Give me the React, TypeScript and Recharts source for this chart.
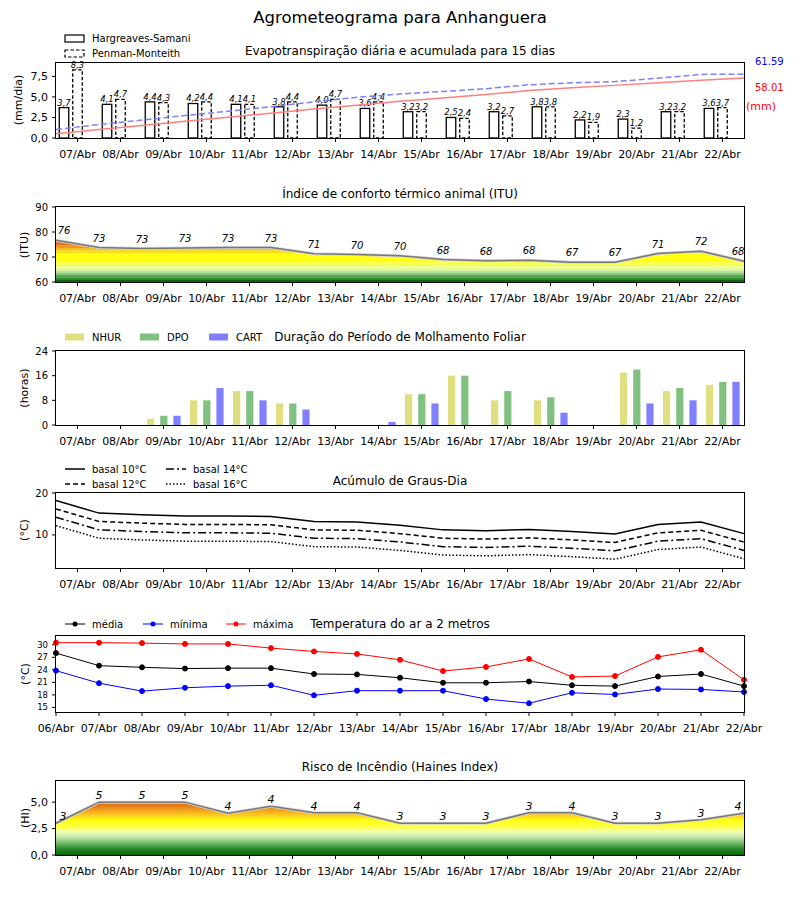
import React from 'react';
import { BarChart, LineChart, ComposedChart, Bar, Line, Area, XAxis, YAxis, LabelList } from 'recharts';

// dias das previsões
const dias = ['07/Abr', '08/Abr', '09/Abr', '10/Abr', '11/Abr', '12/Abr', '13/Abr', '14/Abr', '15/Abr', '16/Abr', '17/Abr', '18/Abr', '19/Abr', '20/Abr', '21/Abr', '22/Abr'];
const diasTemperatura = ['06/Abr', '07/Abr', '08/Abr', '09/Abr', '10/Abr', '11/Abr', '12/Abr', '13/Abr', '14/Abr', '15/Abr', '16/Abr', '17/Abr', '18/Abr', '19/Abr', '20/Abr', '21/Abr', '22/Abr'];

// Evapotranspiração diária (mm/dia)
const etHargreaves = [3.7, 4.1, 4.4, 4.2, 4.1, 3.8, 4.0, 3.6, 3.2, 2.5, 3.2, 3.8, 2.2, 2.3, 3.2, 3.6];
const etPenman = [8.3, 4.7, 4.3, 4.4, 4.1, 4.4, 4.7, 4.4, 3.2, 2.4, 2.7, 3.8, 1.9, 1.2, 3.2, 3.7];
const acumHargreaves = [4.2, 8.1, 12.1, 16.1, 20.1, 24.0, 27.9, 31.7, 35.5, 38.6, 42.0, 45.8, 48.6, 50.8, 53.3, 55.8, 58.0];
const acumPenman = [8.3, 13.0, 17.3, 21.7, 25.8, 30.2, 34.9, 39.3, 42.5, 44.9, 47.6, 51.4, 53.3, 54.5, 57.7, 61.4, 61.6];
const totalHargreaves = '58.01';
const totalPenman = '61.59';

// ITU
const itu = [76.7, 73.8, 73.4, 73.6, 73.8, 73.8, 71.3, 71.0, 70.5, 69.0, 68.5, 68.7, 67.9, 67.9, 71.4, 72.3, 68.3];
const ituRotulos = [76, 73, 73, 73, 73, 73, 71, 70, 70, 68, 68, 68, 67, 67, 71, 72, 68];

// Molhamento foliar (horas)
const nhur = [0, 0, 2, 8, 11, 7, 0, 0, 10, 16, 8, 8, 0, 17, 11, 13];
const dpo = [0, 0, 3, 8, 11, 7, 0, 0, 10, 16, 11, 9, 0, 18, 12, 14];
const cart = [0, 0, 3, 12, 8, 5, 0, 1, 7, 0, 0, 4, 0, 7, 8, 14];

// Graus-dia (°C)
const basal10 = [18.2, 15.2, 14.8, 14.5, 14.5, 14.4, 13.2, 13.1, 12.3, 11.2, 11.0, 11.3, 10.8, 10.2, 12.5, 13.1, 10.3];
const basal12 = [16.2, 13.2, 12.8, 12.5, 12.5, 12.4, 11.2, 11.1, 10.3, 9.2, 9.0, 9.3, 8.8, 8.2, 10.5, 11.1, 8.3];
const basal14 = [14.2, 11.2, 10.8, 10.5, 10.5, 10.4, 9.2, 9.1, 8.3, 7.2, 7.0, 7.3, 6.8, 6.2, 8.5, 9.1, 6.3];
const basal16 = [12.2, 9.2, 8.8, 8.5, 8.5, 8.4, 7.2, 7.1, 6.3, 5.2, 5.0, 5.3, 4.8, 4.2, 6.5, 7.1, 4.3];

// Temperatura do ar (°C)
const tMedia = [28.0, 25.0, 24.6, 24.3, 24.4, 24.4, 23.0, 22.9, 22.1, 20.9, 20.9, 21.2, 20.3, 20.1, 22.4, 23.0, 20.1];
const tMinima = [23.8, 20.8, 18.9, 19.7, 20.1, 20.3, 17.9, 19.0, 19.0, 19.0, 17.0, 16.0, 18.5, 18.1, 19.4, 19.3, 18.7];
const tMaxima = [30.5, 30.5, 30.4, 30.2, 30.2, 29.2, 28.4, 27.8, 26.4, 23.7, 24.7, 26.6, 22.3, 22.5, 27.1, 28.8, 21.6];

// Haines
const haines = [3.0, 5.0, 5.0, 5.0, 3.95, 4.6, 4.0, 4.0, 3.0, 3.0, 3.0, 4.0, 4.0, 3.0, 3.0, 3.33, 3.95];
const hainesRotulos = [3, 5, 5, 5, 4, 4, 4, 4, 3, 3, 3, 3, 4, 3, 3, 3, 4];

const fmt = (v: number) => v.toFixed(1).replace('.', ',');
const meios = dias.map((_, i) => i + 0.5);
const rotuloDia = (v: number) => dias[Math.floor(v)];

const dadosEt = dias.map((d, i) => ({ dia: d, hs: etHargreaves[i], pm: etPenman[i] }));
const dadosAcum = acumHargreaves.map((v, i) => ({ x: i, hs: v, pm: acumPenman[i] }));
const dadosItu = itu.map((v, i) => ({ x: i, itu: v }));
const dadosMolh = dias.map((d, i) => ({ dia: d, nhur: nhur[i], dpo: dpo[i], cart: cart[i] }));
const dadosGraus = basal10.map((v, i) => ({ x: i, b10: v, b12: basal12[i], b14: basal14[i], b16: basal16[i] }));
const dadosTemp = diasTemperatura.map((d, i) => ({ dia: d, media: tMedia[i], minima: tMinima[i], maxima: tMaxima[i] }));
const dadosHaines = haines.map((v, i) => ({ x: i, hi: v }));

const MARGEM = { top: 10, right: 56, bottom: 0, left: 16 };
const PAINEL = {
  et: [63, 138],
  itu: [207, 282],
  molh: [351, 425],
  graus: [493, 568],
  temp: [636, 712],
  haines: [781, 855],
};

const eixoX = {
  axisLine: false,
  tickLine: { stroke: '#000' },
  tickSize: 4,
  tickMargin: 8,
  height: 30,
  interval: 0 as const,
  tick: { fill: '#000', fontSize: 11 },
};
const eixoY = (fs: number) => ({
  axisLine: false,
  tickLine: { stroke: '#000' },
  tickSize: 4,
  tickMargin: 4,
  width: 40,
  interval: 0 as const,
  tick: { fill: '#000', fontSize: fs },
});
const eixoOculto = { tick: false, tickLine: false, axisLine: false };

const posicao = (p: number[]) => ({ position: 'absolute' as const, left: 0, top: p[0] - 10 });
const altura = (p: number[]) => p[1] - p[0] + 40;

const Moldura = ({ p }: { p: number[] }) => (
  <div style={{ position: 'absolute', left: 55, top: p[0] - 1, width: 690, height: p[1] - p[0] + 2, border: '1px solid #000', boxSizing: 'border-box' }} />
);

const DESLOC = 6.75;

const bandasItu: [number, number, string][] = [
  [90, 76.1, '#d2521a'],
  [76.1, 74.8, '#e0761c'],
  [74.8, 73.7, '#ee9a22'],
  [73.7, 72.8, '#f6bb2a'],
  [72.8, 71.5, '#fcdc20'],
  [71.5, 68.5, '#ffff10'],
  [68.5, 66.4, '#f8ff50'],
  [66.4, 65.3, '#eeff98'],
  [65.3, 64.4, '#d6f3a8'],
  [64.4, 63.5, '#b4e39c'],
  [63.5, 62.7, '#88c97e'],
  [62.7, 61.7, '#58a855'],
  [61.7, 60.8, '#2c8a2e'],
  [60.8, 60, '#0b6a10'],
];

const coresHaines: [number, string][] = [
  [7, '#b84008'],
  [5.2, '#c85010'],
  [4.7, '#e07818'],
  [4.2, '#f5a51e'],
  [3.7, '#ffd21e'],
  [3.3, '#ffff10'],
  [2.7, '#ffff40'],
  [2.2, '#f0ffb0'],
  [1.7, '#c6eab0'],
  [1.2, '#7cc070'],
  [0.6, '#2a8a2a'],
  [0, '#0a640a'],
];

const ItemPatch = ({ x, y, texto, fill, stroke, dash }: any) => (
  <g>
    <rect x={x} y={y - 3.5} width={19} height={7} fill={fill} stroke={stroke} strokeWidth={stroke ? 1.2 : 0} strokeDasharray={dash} />
    <text x={x + 27} y={y} dominantBaseline="central" fontSize={10}>{texto}</text>
  </g>
);

const ItemLinha = ({ x, y, texto, cor, dash, marcador }: any) => (
  <g>
    <line x1={x} y1={y} x2={x + 20} y2={y} stroke={cor} strokeWidth={marcador ? 1 : 1.5} strokeDasharray={dash} />
    {marcador && <circle cx={x + 10} cy={y} r={2.5} fill={cor} />}
    <text x={x + 27} y={y} dominantBaseline="central" fontSize={10}>{texto}</text>
  </g>
);

const Titulo = ({ y, texto, size = 12 }: any) => (
  <text x={400} y={y} textAnchor="middle" dominantBaseline="central" fontSize={size}>{texto}</text>
);

const RotuloY = ({ x, y, texto }: any) => (
  <text x={x} y={y} textAnchor="middle" dominantBaseline="central" fontSize={11} transform={`rotate(-90 ${x} ${y})`}>{texto}</text>
);

const RotuloBarra = (p: any) => (
  <text x={p.x + p.width / 2 - DESLOC} y={p.y - 2} textAnchor="middle" fontSize={8.5} fontStyle="italic">{fmt(p.value)}</text>
);

const App = () => {
  const hItu = PAINEL.itu[1] - PAINEL.itu[0];
  const hHaines = PAINEL.haines[1] - PAINEL.haines[0];

  const stopsItu: React.ReactNode[] = [];
  bandasItu.forEach(([a, b, cor], i) => {
    stopsItu.push(<stop key={`a${i}`} offset={(90 - a) / 30} stopColor={cor} />);
    stopsItu.push(<stop key={`b${i}`} offset={(90 - b) / 30} stopColor={cor} />);
  });

  return (
    <div style={{ position: 'absolute', left: 0, top: 0, width: 800, height: 900, background: '#fff', fontFamily: "'DejaVu Sans', sans-serif" }}>
      {/* Evapotranspiração */}
      <div style={posicao(PAINEL.et)}>
        <BarChart width={800} height={altura(PAINEL.et)} data={dadosEt} margin={MARGEM} barSize={9.5} barGap={4}>
          <XAxis dataKey="dia" {...eixoX} />
          <YAxis domain={[0, 9.13]} ticks={[0, 2.5, 5, 7.5]} tickFormatter={fmt} {...eixoY(11)} />
          <Bar dataKey="hs" isAnimationActive={false}
            shape={(p: any) => <rect x={p.x - DESLOC} y={p.y} width={p.width} height={p.height} fill="#fff" stroke="#000" strokeWidth={1.3} />}>
            <LabelList dataKey="hs" content={RotuloBarra} />
          </Bar>
          <Bar dataKey="pm" isAnimationActive={false}
            shape={(p: any) => <rect x={p.x - DESLOC} y={p.y} width={p.width} height={p.height} fill="#fff" stroke="#000" strokeWidth={1.3} strokeDasharray="3.5 2" />}>
            <LabelList dataKey="pm" content={RotuloBarra} />
          </Bar>
        </BarChart>
      </div>
      <div style={posicao(PAINEL.et)}>
        <LineChart width={800} height={altura(PAINEL.et)} data={dadosAcum} margin={MARGEM}>
          <XAxis dataKey="x" type="number" domain={[0, 16]} height={30} {...eixoOculto} />
          <YAxis domain={[0, 72.4]} width={40} {...eixoOculto} />
          <Line dataKey="pm" type="linear" stroke="#7f7fff" strokeWidth={1.5} strokeDasharray="6 3" dot={false} isAnimationActive={false} />
          <Line dataKey="hs" type="linear" stroke="#ff7f7f" strokeWidth={1.5} dot={false} isAnimationActive={false} />
        </LineChart>
      </div>
      <Moldura p={PAINEL.et} />

      {/* ITU */}
      <div style={posicao(PAINEL.itu)}>
        <ComposedChart width={800} height={altura(PAINEL.itu)} data={dadosItu} margin={MARGEM}>
          <defs>
            <linearGradient id="gradItu" gradientUnits="userSpaceOnUse" x1={0} y1={10} x2={0} y2={10 + hItu}>
              {stopsItu}
            </linearGradient>
          </defs>
          <XAxis dataKey="x" type="number" domain={[0, 16]} ticks={meios} tickFormatter={rotuloDia} {...eixoX} />
          <YAxis domain={[60, 90]} ticks={[60, 70, 80, 90]} {...eixoY(10)} />
          <Area dataKey="itu" type="linear" fill="url(#gradItu)" fillOpacity={1} stroke="#d8d8d8" strokeWidth={3} isAnimationActive={false} />
          <Line dataKey="itu" type="linear" stroke="#777" strokeWidth={1.5} isAnimationActive={false}
            dot={(p: any) => (
              <text key={p.index} x={p.cx + (p.index === 0 ? 8 : p.index === itu.length - 1 ? -6 : 0)} y={p.cy - 6}
                textAnchor="middle" fontSize={10} fontStyle="italic">{ituRotulos[p.index]}</text>
            )} />
        </ComposedChart>
      </div>
      <Moldura p={PAINEL.itu} />

      {/* Molhamento foliar */}
      <div style={posicao(PAINEL.molh)}>
        <BarChart width={800} height={altura(PAINEL.molh)} data={dadosMolh} margin={MARGEM} barSize={7.2} barGap={6}>
          <XAxis dataKey="dia" {...eixoX} />
          <YAxis domain={[0, 24]} ticks={[0, 8, 16, 24]} {...eixoY(10)} />
          <Bar dataKey="nhur" fill="#dfdf80" isAnimationActive={false} />
          <Bar dataKey="dpo" fill="#80c080" isAnimationActive={false} />
          <Bar dataKey="cart" fill="#8080ff" isAnimationActive={false} />
        </BarChart>
      </div>
      <Moldura p={PAINEL.molh} />

      {/* Graus-dia */}
      <div style={posicao(PAINEL.graus)}>
        <LineChart width={800} height={altura(PAINEL.graus)} data={dadosGraus} margin={MARGEM}>
          <XAxis dataKey="x" type="number" domain={[0, 16]} ticks={meios} tickFormatter={rotuloDia} {...eixoX} />
          <YAxis domain={[2.1, 20]} ticks={[10, 20]} allowDataOverflow {...eixoY(10)} />
          <Line dataKey="b10" type="linear" stroke="#000" strokeWidth={1.5} dot={false} isAnimationActive={false} />
          <Line dataKey="b12" type="linear" stroke="#000" strokeWidth={1.5} strokeDasharray="5 3" dot={false} isAnimationActive={false} />
          <Line dataKey="b14" type="linear" stroke="#000" strokeWidth={1.5} strokeDasharray="8 3 2 3" dot={false} isAnimationActive={false} />
          <Line dataKey="b16" type="linear" stroke="#000" strokeWidth={1.5} strokeDasharray="1.5 2" dot={false} isAnimationActive={false} />
        </LineChart>
      </div>
      <Moldura p={PAINEL.graus} />

      {/* Temperatura */}
      <div style={posicao(PAINEL.temp)}>
        <LineChart width={800} height={altura(PAINEL.temp)} data={dadosTemp} margin={MARGEM}>
          <XAxis dataKey="dia" {...eixoX} />
          <YAxis domain={[13.9, 32.1]} ticks={[15, 18, 21, 24, 27, 30]} allowDataOverflow {...eixoY(8.5)} />
          <Line dataKey="media" type="linear" stroke="#000" strokeWidth={1} dot={{ r: 2.5, fill: '#000', stroke: '#000' }} isAnimationActive={false} />
          <Line dataKey="minima" type="linear" stroke="#0000ff" strokeWidth={1} dot={{ r: 2.5, fill: '#0000ff', stroke: '#0000ff' }} isAnimationActive={false} />
          <Line dataKey="maxima" type="linear" stroke="#ff0000" strokeWidth={1} dot={{ r: 2.5, fill: '#ff0000', stroke: '#ff0000' }} isAnimationActive={false} />
        </LineChart>
      </div>
      <Moldura p={PAINEL.temp} />

      {/* Haines */}
      <div style={posicao(PAINEL.haines)}>
        <ComposedChart width={800} height={altura(PAINEL.haines)} data={dadosHaines} margin={MARGEM}>
          <defs>
            <linearGradient id="gradHaines" gradientUnits="userSpaceOnUse" x1={0} y1={10} x2={0} y2={10 + hHaines}>
              {coresHaines.map(([v, cor], i) => <stop key={i} offset={(7 - v) / 7} stopColor={cor} />)}
            </linearGradient>
          </defs>
          <XAxis dataKey="x" type="number" domain={[0, 16]} ticks={meios} tickFormatter={rotuloDia} {...eixoX} />
          <YAxis domain={[0, 7]} ticks={[0, 2.5, 5]} tickFormatter={fmt} {...eixoY(11)} />
          <Area dataKey="hi" type="linear" fill="url(#gradHaines)" fillOpacity={1} stroke="#d8d8d8" strokeWidth={3} isAnimationActive={false} />
          <Line dataKey="hi" type="linear" stroke="#777" strokeWidth={1.5} isAnimationActive={false}
            dot={(p: any) => (
              <text key={p.index} x={p.cx + (p.index === 0 ? 7 : p.index === haines.length - 1 ? -6 : 0)} y={p.cy - 3}
                textAnchor="middle" fontSize={11} fontStyle="italic">{hainesRotulos[p.index]}</text>
            )} />
        </ComposedChart>
      </div>
      <Moldura p={PAINEL.haines} />

      {/* textos */}
      <svg width={800} height={900} style={{ position: 'absolute', left: 0, top: 0, pointerEvents: 'none' }}>
        <Titulo y={17} texto="Agrometeograma para Anhanguera" size={16.5} />

        <ItemPatch x={65} y={38.5} texto="Hargreaves-Samani" fill="#fff" stroke="#000" />
        <ItemPatch x={65} y={53.5} texto="Penman-Monteith" fill="#fff" stroke="#000" dash="3.5 2" />
        <Titulo y={51} texto="Evapotranspiração diária e acumulada para 15 dias" />
        <RotuloY x={18} y={100} texto="(mm/dia)" />
        <text x={755} y={61} dominantBaseline="central" fontSize={10} fill="#0000ff">{totalPenman}</text>
        <text x={755} y={87} dominantBaseline="central" fontSize={10} fill="#ff0000">{totalHargreaves}</text>
        <text x={746} y={106} dominantBaseline="central" fontSize={11} fill="#ff0000">(mm)</text>

        <Titulo y={194} texto="Índice de conforto térmico animal (ITU)" />
        <RotuloY x={24} y={245} texto="(ITU)" />

        <ItemPatch x={65} y={337} texto="NHUR" fill="#dfdf80" />
        <ItemPatch x={140} y={337} texto="DPO" fill="#80c080" />
        <ItemPatch x={209} y={337} texto="CART" fill="#8080ff" />
        <Titulo y={337} texto="Duração do Período de Molhamento Foliar" />
        <RotuloY x={24} y={388} texto="(horas)" />

        <ItemLinha x={65} y={469} texto="basal 10°C" cor="#000" />
        <ItemLinha x={65} y={484} texto="basal 12°C" cor="#000" dash="5 3" />
        <ItemLinha x={166} y={469} texto="basal 14°C" cor="#000" dash="8 3 2 3" />
        <ItemLinha x={166} y={484} texto="basal 16°C" cor="#000" dash="1.5 2" />
        <Titulo y={481} texto="Acúmulo de Graus-Dia" />
        <RotuloY x={24} y={530} texto="(°C)" />

        <ItemLinha x={65} y={624} texto="média" cor="#000" marcador />
        <ItemLinha x={143} y={624} texto="mínima" cor="#0000ff" marcador />
        <ItemLinha x={226} y={624} texto="máxima" cor="#ff0000" marcador />
        <Titulo y={624} texto="Temperatura do ar a 2 metros" />
        <RotuloY x={25} y={674} texto="(°C)" />

        <Titulo y={767} texto="Risco de Incêndio (Haines Index)" />
        <RotuloY x={25} y={818} texto="(HI)" />
      </svg>
    </div>
  );
};

export default App;
